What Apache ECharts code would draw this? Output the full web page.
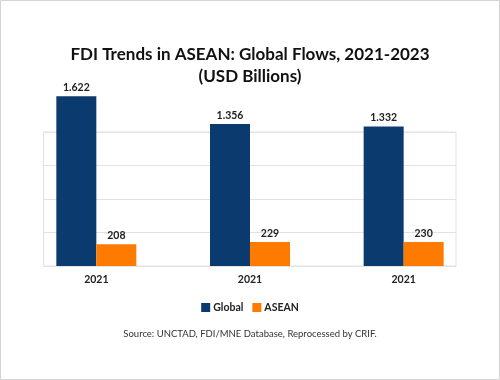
<!DOCTYPE html>
<html><head><meta charset="utf-8">
<script src="https://cdn.jsdelivr.net/npm/echarts@6/dist/echarts.min.js"></script>
<style>html,body{margin:0;padding:0;background:#fff}#c{width:500px;height:380px}</style>
</head><body><div id="c"></div>
<script>
const categories = ['2021', '2021', '2021'];
const globalValues = [1622, 1356, 1332];
const aseanValues = [208, 229, 230];
const seriesNames = ['Global', 'ASEAN'];
const titleText = 'FDI Trends in ASEAN: Global Flows, 2021-2023\n(USD Billions)';
const sourceText = 'Source: UNCTAD, FDI/MNE Database, Reprocessed by CRIF.';

const FONT = "Lato, sans-serif";
const fmt = v => v >= 1000 ? (v / 1000).toFixed(3) : String(v);

const chart = echarts.init(document.getElementById('c'), null, {renderer: 'canvas'});
chart.setOption({
  animation: false,
  textStyle: {fontFamily: FONT},
  title: [{
    text: titleText, left: 'center', top: 39,
    textStyle: {fontFamily: FONT, fontSize: 17, fontWeight: 'bold', color: '#111', lineHeight: 22}
  }, {
    text: sourceText, left: 'center', top: 324,
    textStyle: {fontFamily: FONT, fontSize: 9.5, fontWeight: 'normal', color: '#333'}
  }],
  legend: {
    data: seriesNames, top: 297, left: 'center', icon: 'rect',
    itemWidth: 9, itemHeight: 9, itemGap: 9,
    textStyle: {fontFamily: FONT, fontSize: 10.5, fontWeight: 'bold', color: '#222', padding: [0, 0, 0, -2]}
  },
  graphic: [{type: 'rect', shape: {x: 0.5, y: 0.5, width: 499, height: 379}, style: {fill: 'none', stroke: '#d4d4d4', lineWidth: 1}, z: 100}],
  grid: [
    {left: 19.5, right: 19.5, top: 132, bottom: 114},
    {left: 43.5, right: 44, top: 132, bottom: 114, show: true, borderColor: '#e2e2e2', borderWidth: 1, z: 0}
  ],
  xAxis: [{
    type: 'category', data: categories, gridIndex: 0,
    axisLine: {show: false}, axisTick: {show: false},
    axisLabel: {fontFamily: FONT, fontSize: 10.5, fontWeight: 'bold', color: '#222', margin: 8}
  }, {
    type: 'category', data: categories, gridIndex: 1, show: false
  }],
  yAxis: [{
    type: 'value', min: 0, max: 1280, interval: 320, gridIndex: 0, show: false, splitLine: {show: false}
  }, {
    type: 'value', min: 0, max: 1280, interval: 320, gridIndex: 1,
    axisLabel: {show: false}, axisLine: {show: false}, axisTick: {show: false},
    splitLine: {show: true, lineStyle: {color: '#e2e2e2', width: 1}}
  }],
  series: [{
    name: seriesNames[0], type: 'bar', data: globalValues, xAxisIndex: 0, yAxisIndex: 0,
    barWidth: 40, barGap: '0%', clip: false, z: 5,
    itemStyle: {color: '#0B3A6F'},
    label: {show: true, position: 'top', distance: 3, formatter: p => fmt(p.value),
      fontFamily: FONT, fontSize: 10.5, fontWeight: 'bold', color: '#222'}
  }, {
    name: seriesNames[1], type: 'bar', data: aseanValues, xAxisIndex: 0, yAxisIndex: 0,
    barWidth: 40, barGap: '0%', clip: false, z: 5,
    itemStyle: {color: '#FF7A00'},
    label: {show: true, position: 'top', distance: 3, formatter: p => fmt(p.value),
      fontFamily: FONT, fontSize: 10.5, fontWeight: 'bold', color: '#222'}
  }, {
    type: 'bar', data: [], xAxisIndex: 1, yAxisIndex: 1, silent: true
  }]
});
</script></body></html>
